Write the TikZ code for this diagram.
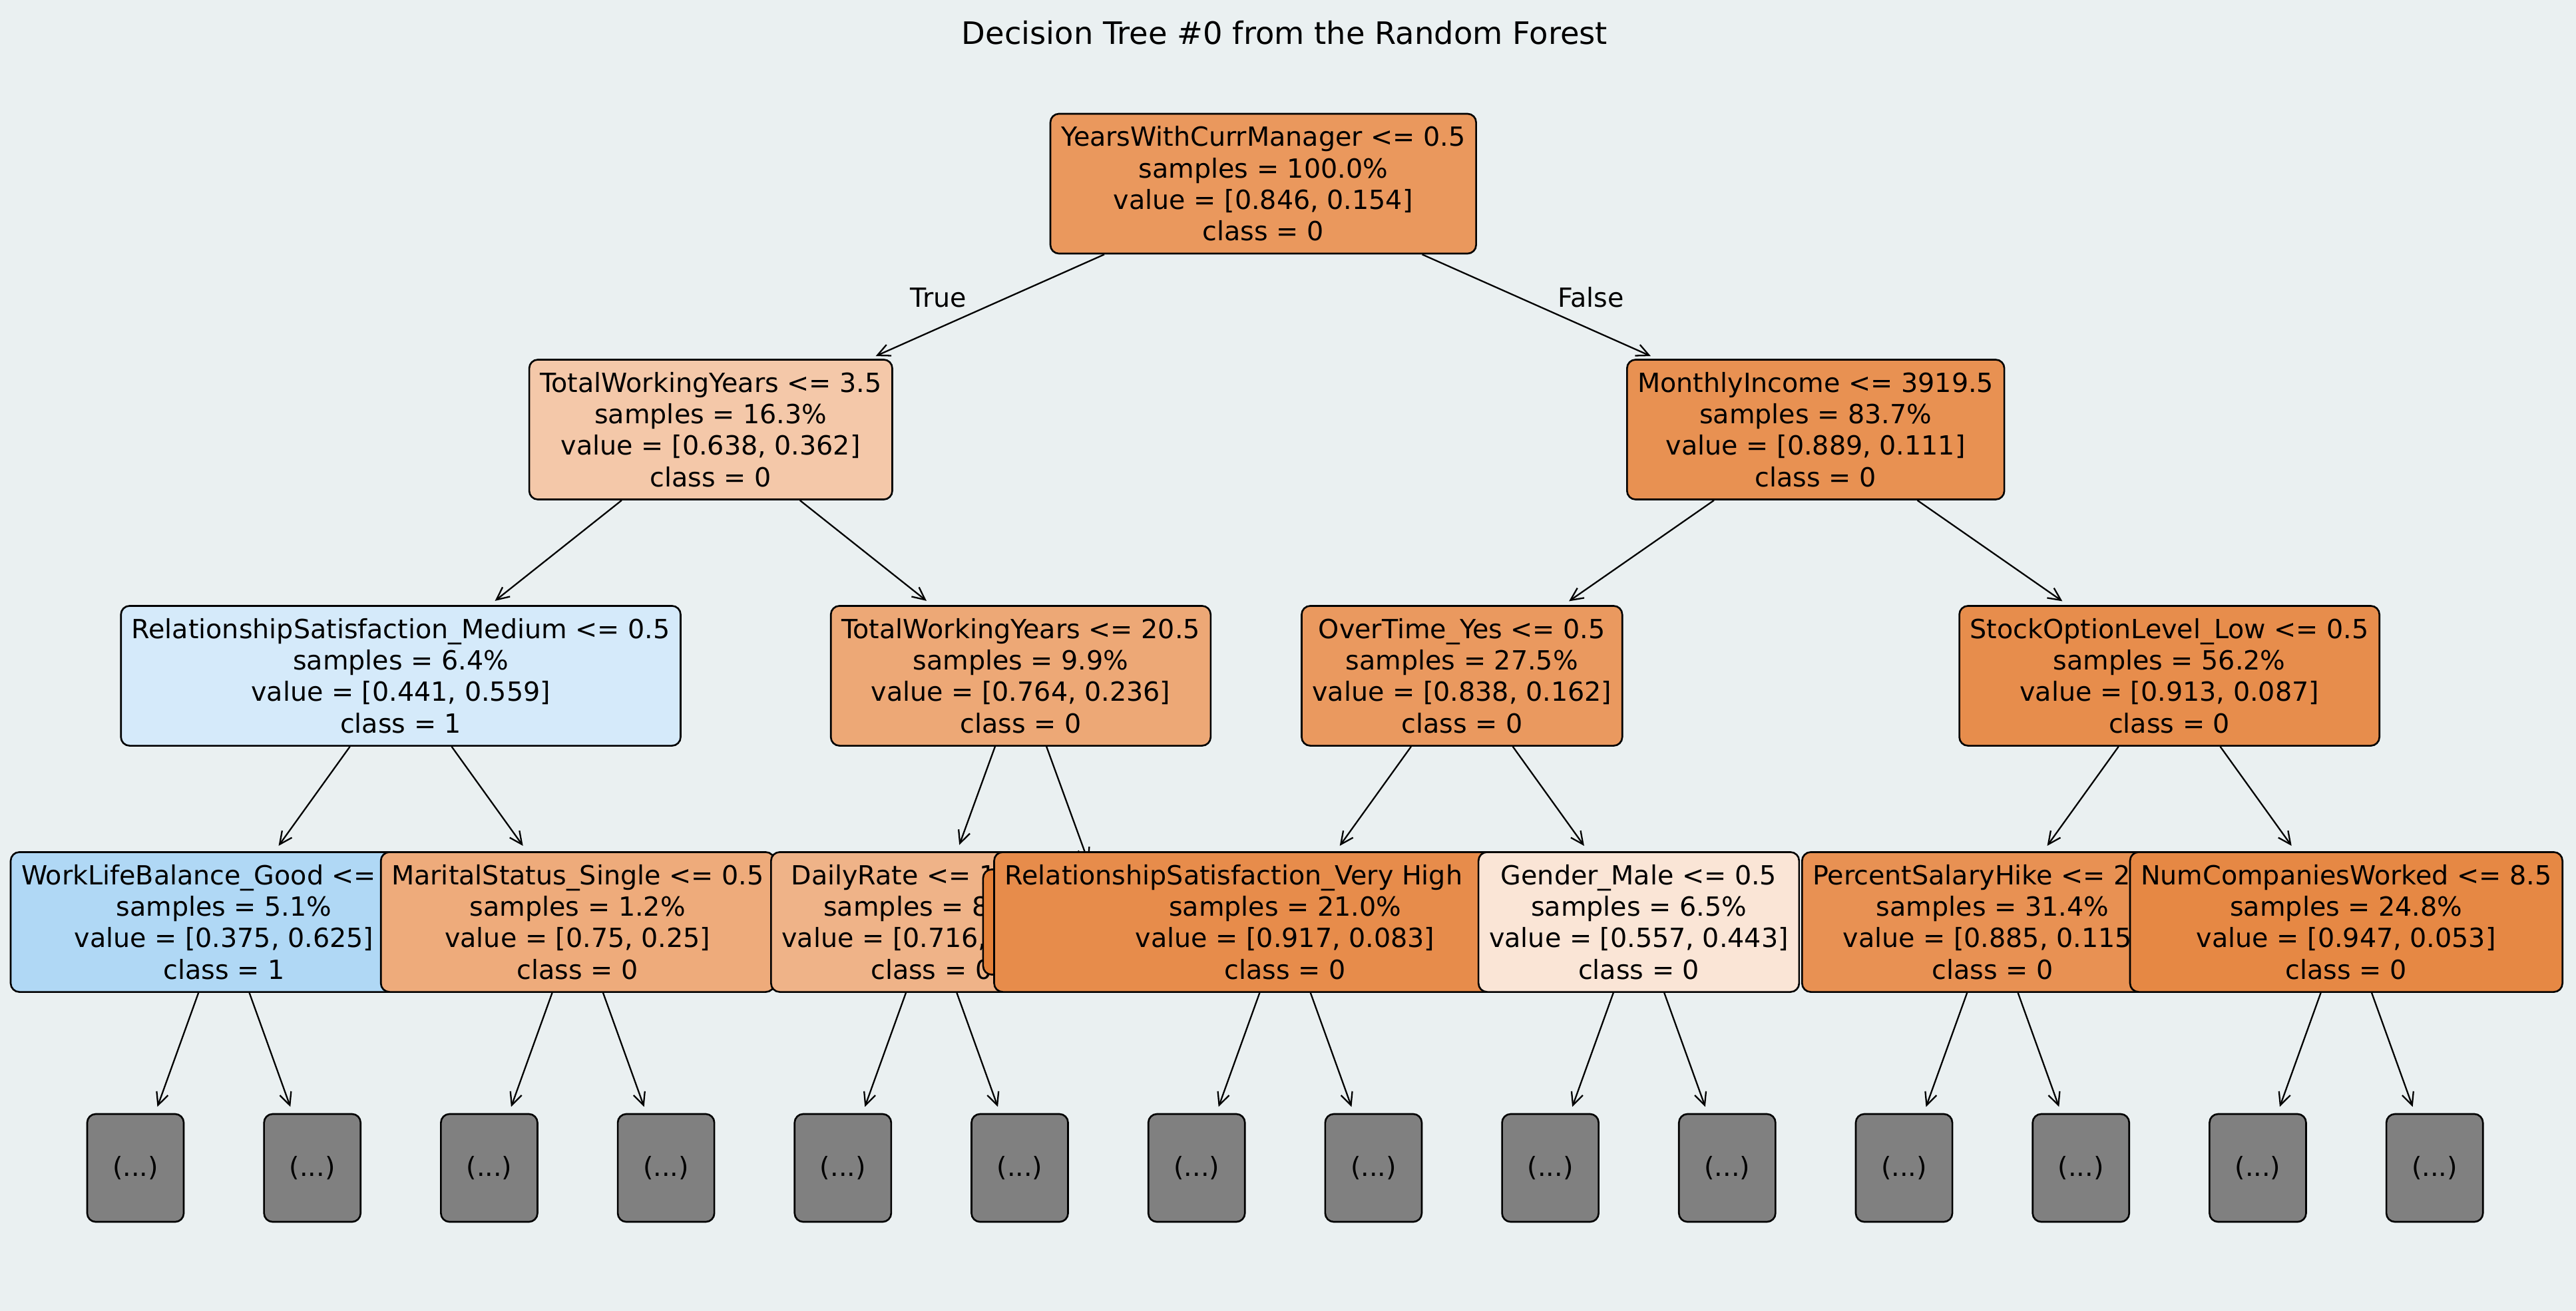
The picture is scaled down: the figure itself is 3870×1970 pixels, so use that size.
\documentclass[tikz,border=0pt]{standalone}
\usepackage{fontspec}
\setmainfont{DejaVu Sans}
\usetikzlibrary{arrows.meta}
\definecolor{bgc}{RGB}{234,240,241}
\definecolor{cRoot}{RGB}{234,152,93}
\definecolor{cTA}{RGB}{244,200,169}
\definecolor{cMI}{RGB}{232,145,82}
\definecolor{cRSM}{RGB}{213,234,250}
\definecolor{cTWY}{RGB}{237,168,118}
\definecolor{cOT}{RGB}{234,153,95}
\definecolor{cSOL}{RGB}{231,141,76}
\definecolor{cWL}{RGB}{176,216,245}
\definecolor{cMS}{RGB}{238,171,123}
\definecolor{cDR}{RGB}{239,179,136}
\definecolor{cLF}{RGB}{229,129,57}
\definecolor{cRSVH}{RGB}{231,140,75}
\definecolor{cGM}{RGB}{250,229,214}
\definecolor{cPSH}{RGB}{232,145,83}
\definecolor{cNCW}{RGB}{230,136,68}
\definecolor{cGray}{RGB}{128,128,128}
\newcommand\tnfont{\fontsize{11.27pt}{13.46pt}\selectfont}
\tikzset{
  tn/.style={draw=black, line width=0.75pt, rounded corners=0.13cm, align=center,
    inner xsep=0.16cm, inner ysep=0pt, minimum height=2.1cm, font=\tnfont},
  leafbox/.style={draw=black, line width=0.75pt, rounded corners=0.13cm, fill=cGray,
    minimum width=1.45cm, minimum height=1.62cm, inner sep=0pt, font=\tnfont},
  arr/.style={-{Straight Barb[length=0.19cm,width=0.18cm]}, line width=0.65pt, shorten >=0.1cm},
}
\begin{document}
\begin{tikzpicture}[x=0.01cm,y=-0.01cm]
\useasboundingbox (0,0) rectangle (3870,1970);
\fill[bgc] (0,0) rectangle (3870,1970);
\node[anchor=base, font=\fontsize{13.2pt}{15.8pt}\selectfont] (title) at (1930,67) {Decision Tree \#0 from the Random Forest};
% level 0
\node[tn, fill=cRoot] (root) at (1897.8,276) {YearsWithCurrManager <= 0.5\\samples = 100.0\%\\value = [0.846, 0.154]\\class = 0};
% level 1 left
\node[tn, fill=cTA] (tA) at (1067.8,645.5) {TotalWorkingYears <= 3.5\\samples = 16.3\%\\value = [0.638, 0.362]\\class = 0};
\draw[arr] (root) -- (tA);
\node[anchor=base, font=\tnfont] (ltrue) at (1410,462) {True};
% level 2
\node[tn, fill=cRSM] (rsm) at (602.1,1015.5) {RelationshipSatisfaction\_Medium <= 0.5\\samples = 6.4\%\\value = [0.441, 0.559]\\class = 1};
\draw[arr] (tA) -- (rsm);
\node[tn, fill=cWL] (wl) at (336.4,1385.5) {WorkLifeBalance\_Good <=\phantom{ 0.5}\\samples = 5.1\%\\value = [0.375, 0.625]\\class = 1};
\draw[arr] (rsm) -- (wl);
\node[leafbox] (g1) at (203.5,1755) {(...)};
\draw[arr] (wl) -- (g1);
\node[leafbox] (g2) at (469.2,1755) {(...)};
\draw[arr] (wl) -- (g2);
\node[tn, fill=cMS] (ms) at (867.8,1385.5) {MaritalStatus\_Single <= 0.5\\samples = 1.2\%\\value = [0.75, 0.25]\\class = 0};
\draw[arr] (rsm) -- (ms);
\node[leafbox] (g3) at (734.9,1755) {(...)};
\draw[arr] (ms) -- (g3);
\node[leafbox] (g4) at (1000.6,1755) {(...)};
\draw[arr] (ms) -- (g4);
\node[tn, fill=cTWY] (twy) at (1533.5,1015.5) {TotalWorkingYears <= 20.5\\samples = 9.9\%\\value = [0.764, 0.236]\\class = 0};
\draw[arr] (tA) -- (twy);
\node[tn, fill=cDR] (dr) at (1399.2,1385.5) {DailyRate <= 1\phantom{000.5}\\samples = 8\phantom{.0\%}\\value = [0.716,\phantom{ 0.284]}\\class = 0};
\draw[arr] (twy) -- (dr);
\node[leafbox] (g5) at (1266.3,1755) {(...)};
\draw[arr] (dr) -- (g5);
\node[leafbox] (g6) at (1532.0,1755) {(...)};
\draw[arr] (dr) -- (g6);
\node[tn, fill=cLF, minimum width=3.82cm, minimum height=1.58cm] (lf) at (1668,1385.5) {};
\draw[arr] (twy) -- (lf);
% level 1 right
\node[tn, fill=cMI] (mI) at (2727.7,645.5) {MonthlyIncome <= 3919.5\\samples = 83.7\%\\value = [0.889, 0.111]\\class = 0};
\draw[arr] (root) -- (mI);
\node[anchor=base, font=\tnfont] (lfalse) at (2390,462) {False};
\node[tn, fill=cOT] (ot) at (2196.3,1015.5) {OverTime\_Yes <= 0.5\\samples = 27.5\%\\value = [0.838, 0.162]\\class = 0};
\draw[arr] (mI) -- (ot);
\node[tn, fill=cRSVH] (rsvh) at (1930.6,1385.5) {RelationshipSatisfaction\_Very High\phantom{ <= 0.5}\\samples = 21.0\%\\value = [0.917, 0.083]\\class = 0};
\draw[arr] (ot) -- (rsvh);
\node[leafbox] (g7) at (1797.7,1755) {(...)};
\draw[arr] (rsvh) -- (g7);
\node[leafbox] (g8) at (2063.4,1755) {(...)};
\draw[arr] (rsvh) -- (g8);
\node[tn, fill=cGM] (gm) at (2462.0,1385.5) {Gender\_Male <= 0.5\\samples = 6.5\%\\value = [0.557, 0.443]\\class = 0};
\draw[arr] (ot) -- (gm);
\node[leafbox] (g9) at (2329.1,1755) {(...)};
\draw[arr] (gm) -- (g9);
\node[leafbox] (g10) at (2594.8,1755) {(...)};
\draw[arr] (gm) -- (g10);
\node[tn, fill=cSOL] (sol) at (3259.1,1015.5) {StockOptionLevel\_Low <= 0.5\\samples = 56.2\%\\value = [0.913, 0.087]\\class = 0};
\draw[arr] (mI) -- (sol);
\node[tn, fill=cPSH] (psh) at (2993.4,1385.5) {PercentSalaryHike <= 2\phantom{0.5}\\samples = 31.4\%\\value = [0.885, 0.115]\\class = 0};
\draw[arr] (sol) -- (psh);
\node[leafbox] (g11) at (2860.5,1755) {(...)};
\draw[arr] (psh) -- (g11);
\node[leafbox] (g12) at (3126.2,1755) {(...)};
\draw[arr] (psh) -- (g12);
\node[tn, fill=cNCW] (ncw) at (3524.8,1385.5) {NumCompaniesWorked <= 8.5\\samples = 24.8\%\\value = [0.947, 0.053]\\class = 0};
\draw[arr] (sol) -- (ncw);
\node[leafbox] (g13) at (3391.9,1755) {(...)};
\draw[arr] (ncw) -- (g13);
\node[leafbox] (g14) at (3657.6,1755) {(...)};
\draw[arr] (ncw) -- (g14);
\end{tikzpicture}
\end{document}
